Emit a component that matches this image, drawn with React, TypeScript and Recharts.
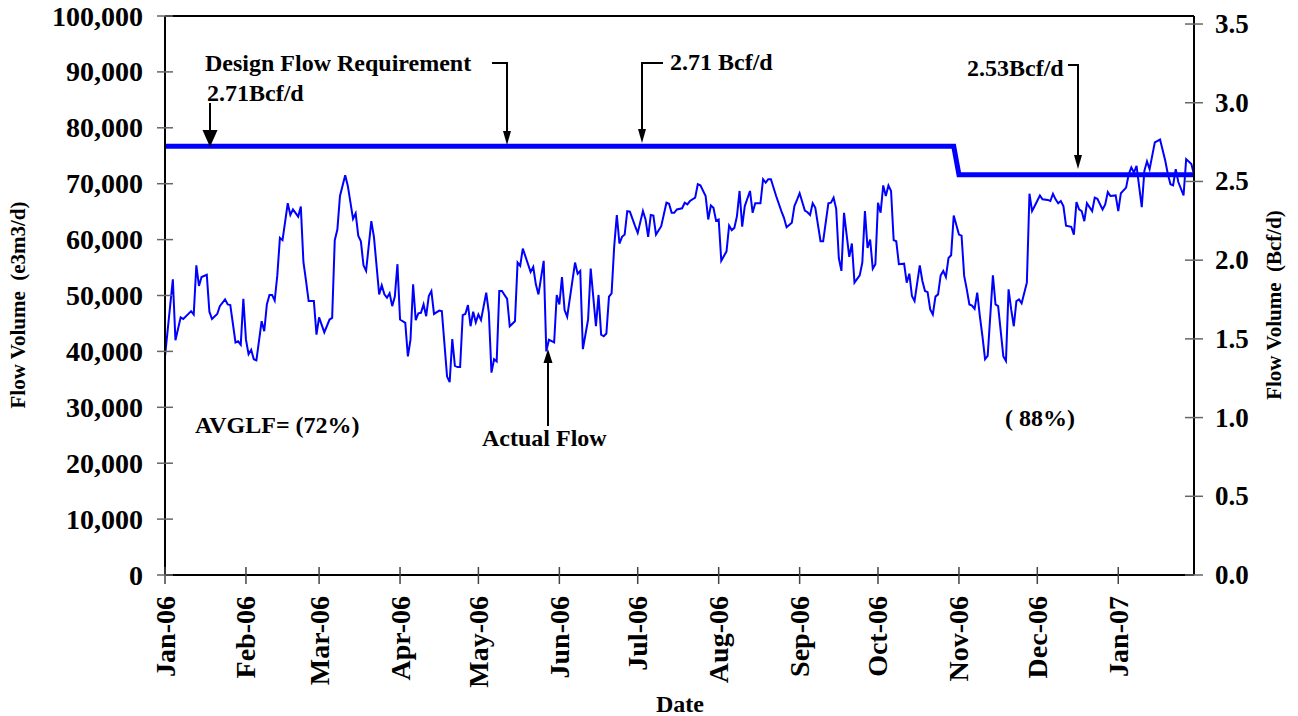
import React from "react";
import { LineChart, Line, XAxis, YAxis, ReferenceLine } from "recharts";

// Daily flow at its turning points (day 0 = 1 Jan 2006)
const flowDays = [
  0, 3, 4, 6, 7, 10, 11, 12, 13, 14, 16, 17, 18, 20, 21, 23, 24, 25, 27, 28,
  29, 30, 31, 32, 33, 34, 35, 37, 38, 39, 40, 41, 42, 43, 44, 45, 47, 48, 49, 51,
  52, 53, 54, 55, 57, 58, 59, 61, 63, 64, 65, 66, 67, 69, 70, 72, 73, 74, 75, 76,
  77, 79, 80, 82, 83, 84, 85, 86, 87, 88, 89, 90, 92, 93, 94, 95, 96, 97, 98, 99,
  100, 101, 102, 103, 105, 106, 108, 109, 110, 111, 112, 113, 114, 115, 116, 117, 118, 119, 120, 121,
  123, 124, 125, 126, 127, 128, 129, 131, 132, 134, 135, 136, 137, 140, 141, 142, 143, 145, 146, 147,
  149, 150, 151, 152, 153, 154, 157, 158, 159, 160, 162, 163, 165, 166, 167, 168, 169, 170, 171, 172,
  173, 174, 175, 176, 177, 178, 180, 181, 183, 184, 185, 186, 187, 188, 190, 192, 193, 194, 195, 196,
  198, 199, 200, 201, 203, 204, 205, 207, 208, 209, 210, 211, 212, 213, 215, 216, 217, 218, 219, 220,
  221, 222, 224, 225, 226, 228, 229, 230, 231, 232, 234, 236, 237, 238, 240, 241, 242, 243, 245, 246,
  247, 248, 249, 251, 252, 254, 255, 256, 257, 258, 259, 260, 262, 263, 264, 266, 267, 268, 269, 270,
  271, 272, 273, 274, 275, 276, 277, 278, 279, 280, 281, 283, 284, 285, 286, 287, 289, 290, 291, 292,
  293, 294, 295, 296, 297, 298, 299, 300, 301, 302, 304, 305, 306, 307, 308, 309, 310, 311, 312, 313,
  314, 315, 317, 318, 319, 321, 322, 323, 324, 325, 326, 327, 328, 330, 331, 332, 333, 335, 336, 338,
  339, 340, 341, 342, 343, 344, 345, 347, 348, 349, 350, 351, 352, 353, 355, 356, 357, 359, 360, 361,
  362, 364, 365, 366, 368, 369, 370, 371, 372, 374, 375, 376, 377, 379, 381, 383, 384, 385, 386, 387,
  388, 390, 391, 393, 394,
];

// thousand e3m3/d
const flowValues = [
  39.1, 52.9, 42.0, 46.1, 45.8, 47.2, 46.6, 55.4, 51.7, 53.3, 53.7, 47.1, 45.8, 46.7, 48.1, 49.3, 48.4, 48.3, 41.6, 41.8,
  41.2, 49.4, 42.1, 39.5, 40.3, 38.6, 38.4, 45.4, 43.6, 48.4, 50.1, 50.1, 49.1, 53.6, 60.3, 59.9, 66.5, 64.4, 65.4, 64.1,
  65.9, 56.0, 52.6, 49.0, 49.0, 43.0, 46.1, 43.4, 45.7, 46.0, 59.9, 61.8, 67.8, 71.5, 69.6, 63.7, 64.7, 60.7, 59.7, 55.4,
  54.4, 63.3, 60.5, 50.2, 51.8, 50.2, 49.6, 50.4, 48.1, 49.8, 55.6, 45.7, 45.1, 39.1, 42.1, 52.0, 45.6, 46.8, 46.9, 48.4,
  46.3, 49.9, 50.8, 46.7, 47.3, 47.2, 35.5, 34.5, 42.2, 37.4, 37.2, 37.2, 46.5, 46.7, 48.3, 44.5, 47.1, 45.2, 46.6, 45.6,
  50.5, 46.9, 36.2, 38.6, 38.2, 50.8, 50.8, 49.4, 44.5, 45.4, 55.9, 55.3, 58.4, 54.2, 55.1, 52.0, 50.2, 56.2, 40.0, 42.1,
  41.6, 50.1, 48.4, 53.3, 47.4, 46.2, 55.9, 53.9, 54.4, 40.4, 45.7, 54.8, 44.5, 50.1, 43.0, 42.7, 43.2, 49.8, 50.4, 58.8,
  64.4, 59.3, 60.5, 60.9, 65.1, 65.0, 62.4, 61.2, 65.1, 63.6, 60.5, 64.4, 64.3, 60.9, 62.4, 66.6, 66.4, 64.8, 64.8, 65.4,
  65.6, 66.6, 66.3, 66.9, 67.5, 69.9, 69.7, 67.8, 63.6, 66.1, 65.7, 63.4, 63.6, 56.2, 57.9, 62.5, 61.7, 62.1, 64.2, 68.7,
  62.3, 66.0, 68.7, 64.8, 66.5, 66.5, 70.8, 70.2, 70.8, 70.8, 67.8, 65.1, 63.9, 62.2, 63.0, 66.0, 67.1, 68.3, 65.2, 64.9,
  64.4, 66.5, 65.7, 59.7, 59.7, 66.5, 66.6, 67.5, 65.5, 56.7, 54.4, 64.8, 56.9, 59.3, 52.3, 53.6, 55.9, 65.1, 58.5, 60.0,
  54.8, 55.6, 66.6, 64.8, 69.7, 67.8, 69.7, 68.7, 59.9, 59.7, 55.6, 55.7, 52.3, 53.9, 49.9, 49.0, 55.4, 52.6, 50.8, 50.6,
  47.5, 46.6, 49.8, 50.2, 53.6, 54.4, 53.3, 56.7, 57.2, 64.3, 60.9, 60.7, 53.5, 51.1, 48.4, 48.2, 47.6, 50.5, 46.3, 42.7,
  38.6, 39.2, 53.6, 48.4, 48.1, 39.1, 38.3, 51.1, 47.5, 44.5, 49.0, 49.3, 48.6, 52.3, 68.2, 65.1, 66.0, 67.9, 67.2, 67.1,
  66.9, 68.2, 67.2, 66.5, 66.9, 66.0, 62.5, 62.3, 60.9, 66.7, 65.4, 65.1, 63.3, 66.5, 65.1, 67.5, 67.3, 65.4, 66.3, 68.5,
  67.8, 67.9, 65.1, 68.3, 69.3, 71.7, 72.9, 72.0, 73.2, 65.8, 72.3, 74.0, 72.6, 77.4, 77.9, 74.1, 71.7, 69.9, 69.7, 72.6,
  70.3, 67.9, 74.4, 73.5, 71.7,
];

// design flow requirement: 2.71 Bcf/d until end of Oct, then 2.53 Bcf/d
const designDays = [0, 302, 304, 394];
const designValues = [76700, 76700, 71600, 71600];

const monthTicks = [0, 31, 59, 90, 120, 151, 181, 212, 243, 273, 304, 334, 365];
const monthLabels = [
  "Jan-06", "Feb-06", "Mar-06", "Apr-06", "May-06", "Jun-06", "Jul-06",
  "Aug-06", "Sep-06", "Oct-06", "Nov-06", "Dec-06", "Jan-07",
];
const leftTicks = [0, 10000, 20000, 30000, 40000, 50000, 60000, 70000, 80000, 90000, 100000];
const rightTicks = [0, 0.5, 1, 1.5, 2, 2.5, 3, 3.5];

const FONT = '"Liberation Serif", "Times New Roman", serif';
const BLUE = "#0000FF";

const flowData = flowDays.map((d, i) => ({ day: d, flow: flowValues[i] * 1000 }));
const designData = designDays.map((d, i) => ({ day: d, design: designValues[i] }));

const txt = {
  fontFamily: FONT,
  fontWeight: "bold" as const,
  fill: "#000",
};

function LeftTick({ x, y, payload }: any) {
  return (
    <g>
      <line x1={x - 8} x2={x + 8} y1={y} y2={y} stroke="#666" strokeWidth={1.5} />
      <text x={x - 22} y={y} textAnchor="end" dominantBaseline="central" fontSize={28} {...txt}>
        {Number(payload.value).toLocaleString("en-US")}
      </text>
    </g>
  );
}

function RightTick({ x, y, payload }: any) {
  return (
    <g>
      <line x1={x - 9} x2={x + 9} y1={y} y2={y} stroke="#666" strokeWidth={1.5} />
      <text x={x + 21} y={y} textAnchor="start" dominantBaseline="central" fontSize={27} {...txt}>
        {Number(payload.value).toFixed(1)}
      </text>
    </g>
  );
}

function DateTick({ x, y, payload }: any) {
  const label = monthLabels[monthTicks.indexOf(payload.value)] ?? "";
  return (
    <g>
      <line x1={x} x2={x} y1={y - 8} y2={y + 9} stroke="#444" strokeWidth={1.5} />
      <text
        x={x}
        y={y + 21}
        transform={`rotate(-90, ${x}, ${y + 21})`}
        textAnchor="end"
        dominantBaseline="central"
        fontSize={28}
        {...txt}
      >
        {label}
      </text>
    </g>
  );
}

function Head({ x, y, w, h, up }: { x: number; y: number; w: number; h: number; up?: boolean }) {
  const b = up ? y + h : y - h;
  return <polygon points={`${x},${y} ${x - w / 2},${b} ${x + w / 2},${b}`} fill="#000" />;
}

function Annotations() {
  const arrow = { stroke: "#000", strokeWidth: 2, fill: "none" };
  return (
    <svg
      width={1298}
      height={716}
      style={{ position: "absolute", left: 0, top: 0, pointerEvents: "none" }}
    >
      <text x={18} y={305} transform="rotate(-90, 18, 305)" textAnchor="middle" dominantBaseline="central"
        fontSize={21} style={{ whiteSpace: "pre" }} {...txt}>
        Flow Volume  (e3m3/d)
      </text>
      <text x={1274} y={305} transform="rotate(-90, 1274, 305)" textAnchor="middle" dominantBaseline="central"
        fontSize={21} style={{ whiteSpace: "pre" }} {...txt}>
        Flow Volume  (Bcf/d)
      </text>
      <text x={680} y={712} textAnchor="middle" fontSize={24} {...txt}>Date</text>

      <text x={205} y={71} fontSize={24} {...txt}>Design Flow Requirement</text>
      <text x={207} y={101} fontSize={24} {...txt}>2.71Bcf/d</text>
      <line x1={210} y1={103} x2={210} y2={132} {...arrow} />
      <Head x={210} y={147} w={15} h={17} />

      <polyline points="492,63 507,63 507,132" {...arrow} />
      <Head x={507} y={145} w={8} h={14} />

      <text x={670} y={70} fontSize={24} {...txt}>2.71 Bcf/d</text>
      <polyline points="663,63 642,63 642,130" {...arrow} />
      <Head x={642} y={143} w={8} h={14} />

      <text x={967} y={76} fontSize={24} {...txt}>2.53Bcf/d</text>
      <polyline points="1068,65 1078,65 1078,156" {...arrow} />
      <Head x={1078} y={169} w={8} h={14} />

      <text x={195} y={433} fontSize={24} {...txt}>AVGLF= (72%)</text>
      <text x={482} y={446} fontSize={24} {...txt}>Actual Flow</text>
      <line x1={548} y1={426} x2={548} y2={362} {...arrow} />
      <Head x={548} y={349} w={9} h={14} up />

      <text x={1005} y={426} fontSize={24} style={{ whiteSpace: "pre" }} {...txt}>( 88%)</text>
    </svg>
  );
}

export default function App() {
  return (
    <div style={{ position: "relative", width: 1298, height: 716, background: "#fff" }}>
      <style>{"body{margin:0}"}</style>
      <LineChart width={1298} height={716} margin={{ top: 16, right: 0, bottom: 0, left: 0 }}>
        <XAxis
          dataKey="day"
          type="number"
          domain={[0, 394]}
          ticks={monthTicks}
          interval={0}
          allowDuplicatedCategory={false}
          height={141}
          tickSize={0}
          tickMargin={0}
          axisLine={{ stroke: "#000", strokeWidth: 2 }}
          tickLine={false}
          tick={<DateTick />}
        />
        <YAxis
          yAxisId="left"
          orientation="left"
          type="number"
          domain={[0, 100000]}
          ticks={leftTicks}
          interval={0}
          width={165}
          tickSize={0}
          tickMargin={0}
          axisLine={{ stroke: "#000", strokeWidth: 2 }}
          tickLine={false}
          tick={<LeftTick />}
        />
        <YAxis
          yAxisId="right"
          orientation="right"
          type="number"
          domain={[0, 3.551]}
          allowDataOverflow
          ticks={rightTicks}
          interval={0}
          width={104}
          tickSize={0}
          tickMargin={0}
          axisLine={{ stroke: "#000", strokeWidth: 2 }}
          tickLine={false}
          tick={<RightTick />}
        />
        <ReferenceLine yAxisId="left" y={100000} stroke="#000" strokeWidth={2} />
        <Line
          yAxisId="left"
          data={flowData}
          dataKey="flow"
          type="linear"
          stroke={BLUE}
          strokeWidth={2}
          dot={false}
          activeDot={false}
          isAnimationActive={false}
        />
        <Line
          yAxisId="left"
          data={designData}
          dataKey="design"
          type="linear"
          stroke={BLUE}
          strokeWidth={5}
          dot={false}
          activeDot={false}
          isAnimationActive={false}
        />
      </LineChart>
      <Annotations />
    </div>
  );
}
